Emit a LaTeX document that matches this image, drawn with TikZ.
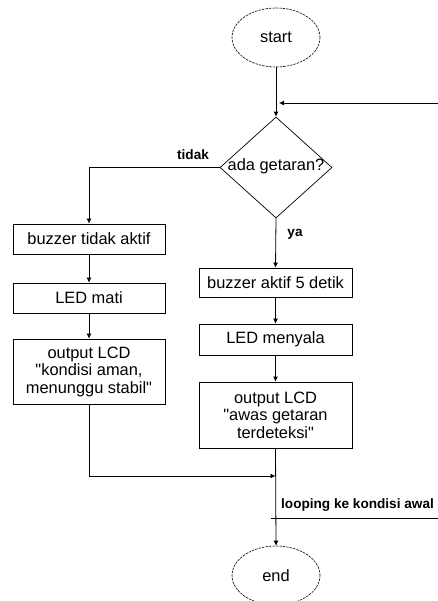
\documentclass[tikz,border=0pt]{standalone}
\usepackage{fontspec}
\setmainfont{Liberation Sans}[Ligatures=TeXOff]
\usetikzlibrary{shapes.geometric,arrows.meta}
\begin{document}
\begin{tikzpicture}[x=1pt,y=-1pt,
  boxtxt/.style={font=\fontsize{16.4}{17.5}\selectfont},
  procbox/.style={draw,line width=0.8pt,rectangle,inner sep=0pt,align=center,boxtxt},
  term/.style={draw,ellipse,line width=0.6pt,dash pattern=on 2.5pt off 1pt,inner sep=0pt,minimum width=88pt,minimum height=59pt,boxtxt},
  dec/.style={draw,diamond,line width=0.7pt,inner sep=0pt,minimum width=112pt,minimum height=101pt},
  lbl/.style={font=\fontsize{13.6}{15}\selectfont\bfseries,inner sep=0pt},
  conn/.style={line width=0.8pt},
  arr/.style={conn,-{Latex[length=5pt,width=5pt]}}]
\useasboundingbox (0,0) rectangle (438,601);
\clip (0,0) rectangle (438,601);

\node[term] (start) at (276,37.5) {start};
\node[dec] (dec) at (276,167.5) {};
\node[boxtxt,inner sep=0pt] (dectxt) at (276,166) {ada getaran?};

\node[procbox,minimum width=152pt,minimum height=30pt] (b1) at (89,239) {buzzer tidak aktif};
\node[procbox,minimum width=152pt,minimum height=30pt] (b2) at (89,298) {LED mati};
\node[procbox,minimum width=152pt,minimum height=65pt] (b3) at (89,371.5) {output LCD\\"kondisi aman,\\menunggu stabil"};

\node[procbox,minimum width=153pt,minimum height=29pt] (r1) at (275.5,282.5) {buzzer aktif 5 detik};
\node[procbox,minimum width=153pt,minimum height=31pt] (r2) at (275.5,339.5) {LED menyala};
\node[procbox,minimum width=153pt,minimum height=66pt] (r3) at (275.5,415) {output LCD\\"awas getaran\\terdeteksi"};

\node[term] (end) at (276,575.5) {end};

\coordinate (loopin) at (438,103);
\coordinate (looptip) at (279,103);
\coordinate (merge) at (275.5,476);
\coordinate (loa) at (271,518);
\coordinate (lob) at (438,518);

\draw[arr] (start.south) -- (dec.north);
\draw[arr] (loopin) -- (looptip);
\draw[arr] (dec.west) -| (b1.north);
\draw[arr] (dec.south) -- (r1.north);
\draw[arr] (b1) -- (b2);
\draw[arr] (b2) -- (b3);
\draw[arr] (r1) -- (r2);
\draw[arr] (r2) -- (r3);
\draw[arr] (b3.south) |- (merge);
\draw[arr] (r3.south) -- (end.north);
\draw[conn] (loa) -- (lob);

\node[lbl] (ltidak) at (193,155) {tidak};
\node[lbl] (lya) at (295,234) {ya};
\node[lbl] (lloop) at (357.5,505) {looping ke kondisi awal};
\end{tikzpicture}
\end{document}
